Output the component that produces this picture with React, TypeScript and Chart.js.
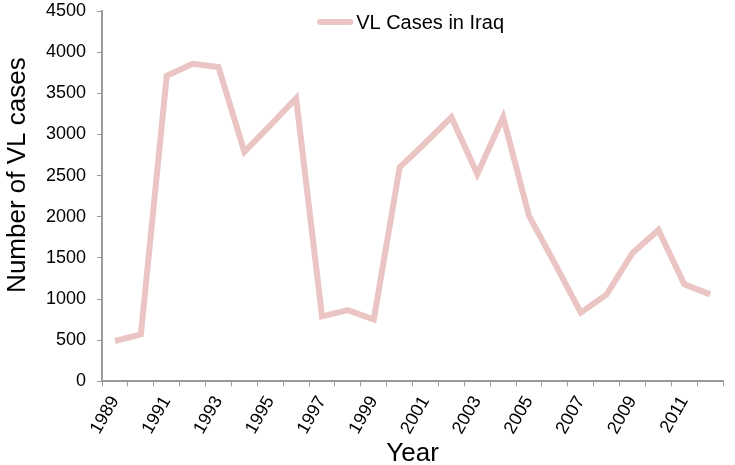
import React, { useEffect, useRef } from "react";
import { Chart, registerables } from "chart.js";

Chart.register(...registerables);

const years: string[] = [
  "1989", "1990", "1991", "1992", "1993", "1994", "1995", "1996",
  "1997", "1998", "1999", "2000", "2001", "2002", "2003", "2004",
  "2005", "2006", "2007", "2008", "2009", "2010", "2011", "2012",
];
const vlCases: number[] = [
  490, 570, 3715, 3860, 3820, 2790, 3110, 3440,
  790, 866, 752, 2600, 2900, 3210, 2520, 3210,
  2010, 1430, 835, 1057, 1560, 1840, 1179, 1057,
];
const seriesLabel = "VL Cases in Iraq";
const yTitle = "Number of VL cases";
const xTitle = "Year";
const lineColor = "#ebc4c4";
const axisColor = "#9a9a9a";
const font = "'Liberation Sans', Arial, sans-serif";

const innerLegend = {
  id: "innerLegend",
  afterDraw(chart: any) {
    const { ctx, chartArea } = chart;
    const ds = chart.data.datasets[0];
    ctx.save();
    ctx.font = `20px ${font}`;
    const textW = ctx.measureText(ds.label).width;
    const boxW = 36;
    const gap = 3;
    const total = boxW + gap + textW;
    const cx = (chartArea.left + chartArea.right) / 2 - 2;
    const x0 = cx - total / 2;
    const y = chartArea.top + 11;
    ctx.strokeStyle = ds.borderColor;
    ctx.lineWidth = 6;
    ctx.lineCap = "round";
    ctx.beginPath();
    ctx.moveTo(x0 + 3, y);
    ctx.lineTo(x0 + boxW - 3, y);
    ctx.stroke();
    ctx.fillStyle = "#000";
    ctx.textBaseline = "middle";
    ctx.textAlign = "left";
    ctx.fillText(ds.label, x0 + boxW + gap, y + 1);

    // y axis title (sits higher than the axis centre in the original)
    ctx.font = `26px ${font}`;
    ctx.textAlign = "center";
    ctx.textBaseline = "alphabetic";
    ctx.translate(25, chartArea.top + (chartArea.bottom - chartArea.top) * 0.443);
    ctx.rotate(-Math.PI / 2);
    ctx.fillText(yTitle, 0, 0);
    ctx.restore();
  },
};

export default function App() {
  const ref = useRef<HTMLCanvasElement | null>(null);
  useEffect(() => {
    if (!ref.current) return;
    const chart = new Chart(ref.current, {
      type: "line",
      data: {
        labels: years,
        datasets: [
          {
            label: seriesLabel,
            data: vlCases,
            borderColor: lineColor,
            backgroundColor: lineColor,
            borderWidth: 6,
            pointRadius: 0,
            tension: 0,
            borderJoinStyle: "miter",
          },
        ],
      },
      plugins: [innerLegend],
      options: {
        animation: false,
        responsive: false,
        maintainAspectRatio: false,
        layout: { padding: { top: 0, right: 5, left: 35, bottom: 0 } },
        plugins: {
          tooltip: { enabled: false },
          legend: { display: false },
        },
        scales: {
          x: {
            offset: true,
            grid: {
              display: true,
              offset: true,
              drawOnChartArea: false,
              drawTicks: true,
              tickLength: 5,
              color: axisColor,
            },
            border: { display: true, color: axisColor, width: 2 },
            ticks: {
              autoSkip: false,
              minRotation: 60,
              maxRotation: 60,
              color: "#000",
              font: { family: font, size: 18 },
              padding: 6,
              callback: (_v: any, i: number) => (i % 2 === 0 ? years[i] : ""),
            },
            title: {
              display: true,
              text: xTitle,
              color: "#000",
              font: { family: font, size: 26 },
              padding: { top: -6, bottom: -4 },
            },
          },
          y: {
            min: 0,
            max: 4500,
            grid: {
              display: true,
              drawOnChartArea: false,
              drawTicks: true,
              tickLength: 5,
              color: axisColor,
            },
            border: { display: true, color: axisColor, width: 2 },
            ticks: {
              stepSize: 500,
              color: "#000",
              font: { family: font, size: 18, lineHeight: 0.01 },
              padding: 11,
              callback: (v: any) => String(v),
            },
            title: { display: false },
          },
        },
      },
    });
    return () => chart.destroy();
  }, []);
  return (
    <div style={{ position: "absolute", left: 0, top: 0, width: 735, height: 465 }}>
      <canvas ref={ref} width={735} height={465} style={{ width: 735, height: 465 }} />
    </div>
  );
}
